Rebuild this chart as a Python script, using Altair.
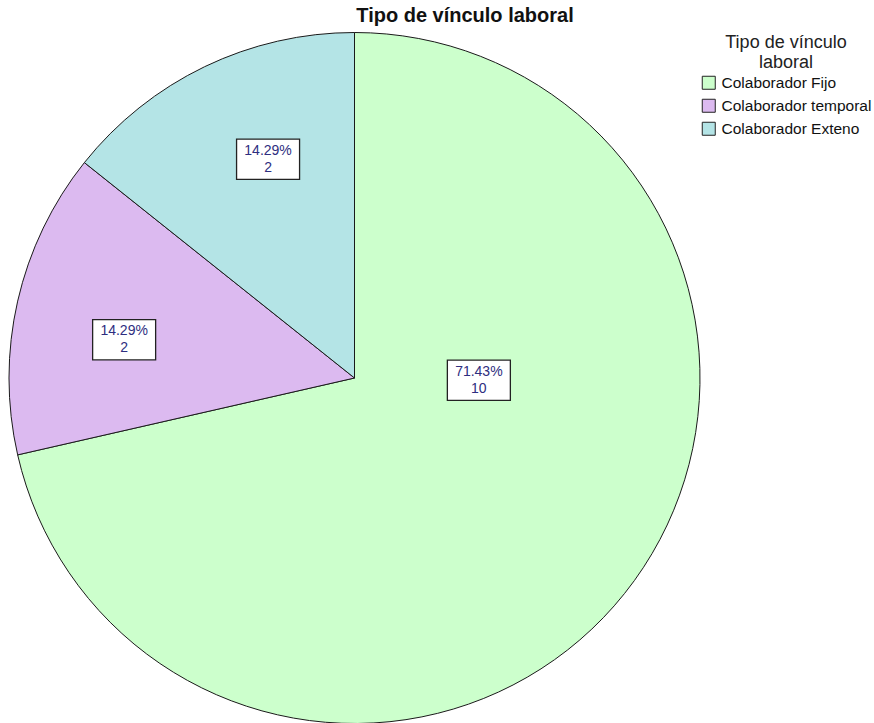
import altair as alt
import pandas as pd

# ---- data ----
categories = ["Colaborador Fijo", "Colaborador temporal", "Colaborador Exteno"]
counts = [10, 2, 2]
colors = ["#ccffcc", "#dcbaf0", "#b4e4e6"]
chart_title = "Tipo de vínculo laboral"
legend_title = ["Tipo de vínculo", "laboral"]

df = pd.DataFrame({"categoria": categories, "n": counts,
                   "orden": list(range(len(categories)))})

# ---- layout ----
W, H = 874, 723
CX, CY, R = 354.5, 378, 345.5
FONT = "Liberation Sans"

xs = alt.Scale(domain=[-CX / R, (W - CX) / R], nice=False, zero=False)
ys = alt.Scale(domain=[-(H - CY) / R, CY / R], nice=False, zero=False)

base = alt.Chart(df)

pie = base.mark_arc(outerRadius=R, stroke="#1a1a1a", strokeWidth=1).encode(
    theta=alt.Theta("n:Q", stack=True),
    color=alt.Color(
        "categoria:N",
        scale=alt.Scale(domain=categories, range=colors),
        legend=alt.Legend(title=legend_title, orient="none", legendX=701, legendY=34),
    ),
    order=alt.Order("orden:Q"),
    x=alt.value(CX),
    y=alt.value(CY),
)

lab = (
    base.transform_joinaggregate(total="sum(n)")
    .transform_window(cum="sum(n)", sort=[alt.SortField("orden")], frame=[None, 0])
    .transform_calculate(frac="datum.n / datum.total")
    .transform_calculate(start="(datum.cum - datum.n) / datum.total * 2 * PI")
    .transform_calculate(span="datum.frac * 2 * PI")
    .transform_calculate(
        ang="datum.frac > 0.5 ? datum.start + 0.354 * datum.span : datum.start + 0.5 * datum.span"
    )
    .transform_calculate(rr="datum.frac > 0.5 ? 0.36 : 0.77")
    .transform_calculate(
        lx=f"datum.rr * sin(datum.ang) + (datum.frac > 0.5 ? 0 : 29 / {R})"
    )
    .transform_calculate(
        ly=f"datum.rr * cos(datum.ang) - (datum.frac > 0.5 ? 0 : 21 / {R})"
    )
    .transform_calculate(txt="format(datum.frac, '.2%') + '\\n' + datum.n")
)

box_path = "M-1,-0.64L1,-0.64L1,0.64L-1,0.64Z"
boxes = lab.mark_point(
    shape=box_path, size=63 * 63, filled=True, fill="white",
    stroke="#222222", strokeWidth=1.3, opacity=1,
).encode(
    x=alt.X("lx:Q", scale=xs, axis=None),
    y=alt.Y("ly:Q", scale=ys, axis=None),
)

texts = lab.mark_text(
    lineBreak="\n", font=FONT, fontSize=14, lineHeight=17, dy=-8.5,
    color="#2e2e80", baseline="middle", align="center",
).encode(
    x=alt.X("lx:Q", scale=xs, axis=None),
    y=alt.Y("ly:Q", scale=ys, axis=None),
    text="txt:N",
)

title = alt.Chart(pd.DataFrame({"t": [chart_title]})).mark_text(
    font=FONT, fontSize=20, fontWeight="bold", color="#111111",
    baseline="middle", align="center",
).encode(x=alt.value(465), y=alt.value(16), text="t:N")

chart = (
    alt.layer(pie, boxes, texts, title)
    .properties(width=W, height=H, autosize="none", padding=0, background="white")
    .configure_view(stroke=None)
    .configure_legend(
        titleFont=FONT, titleFontSize=18, titleFontWeight="normal", titleColor="#222222",
        titleAnchor="middle", titleAlign="center", titleLineHeight=20, titlePadding=3,
        labelFont=FONT, labelFontSize=15.5, labelColor="#111111", labelOffset=5,
        symbolType="square", symbolSize=169, symbolStrokeColor="#222222",
        symbolStrokeWidth=1, symbolOpacity=1, rowPadding=5,
    )
)

chart.save("out.html", embed_options={"renderer": "svg", "actions": False})
